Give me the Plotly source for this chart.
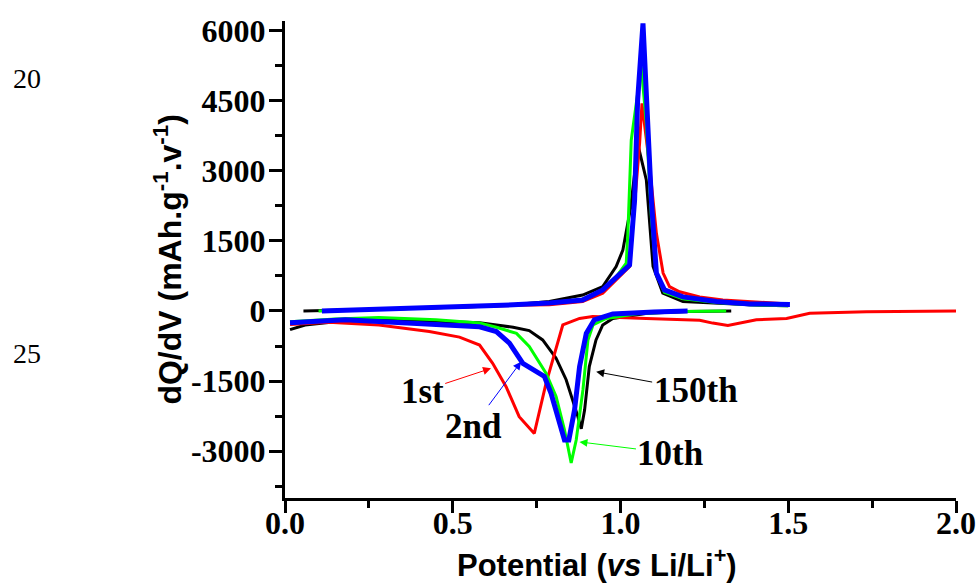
import plotly.graph_objects as go

# ---------------- data ----------------
# discharge (lower) branches
black_dis_v = [0.015, 0.06, 0.15, 0.28, 0.45, 0.58, 0.68, 0.728, 0.768, 0.808, 0.838, 0.858, 0.873, 0.883, 0.893, 0.907, 0.927, 0.947, 0.977, 1.08, 1.2, 1.33]
black_dis_q = [-400, -300, -230, -200, -220, -250, -350, -420, -620, -1010, -1470, -1900, -2260, -2520, -2120, -1190, -620, -300, -160, -50, -10, 0]

red_dis_v = [0.015, 0.13, 0.28, 0.43, 0.52, 0.58, 0.619, 0.659, 0.698, 0.743, 0.778, 0.828, 0.878, 0.917, 1.077, 1.236, 1.275, 1.32, 1.405, 1.495, 1.564, 1.733, 2.0]
red_dis_q = [-290, -240, -300, -440, -560, -730, -1120, -1620, -2260, -2620, -1550, -300, -160, -120, -160, -200, -260, -310, -190, -160, -50, -15, 0]

green_dis_v = [0.015, 0.15, 0.28, 0.45, 0.58, 0.63, 0.69, 0.728, 0.778, 0.808, 0.833, 0.853, 0.868, 0.888, 0.903, 0.918, 0.957, 1.05, 1.176, 1.315]
green_dis_q = [-230, -170, -140, -190, -260, -350, -480, -760, -1330, -1830, -2540, -3250, -2760, -1690, -620, -300, -160, -60, -10, 0]

blue_dis_v = [0.015, 0.18, 0.35, 0.48, 0.58, 0.63, 0.669, 0.709, 0.748, 0.773, 0.793, 0.818, 0.833, 0.846, 0.863, 0.878, 0.898, 0.922, 0.977, 1.1, 1.2]
blue_dis_q = [-250, -190, -250, -300, -340, -440, -690, -1120, -1300, -1400, -1760, -2330, -2760, -2760, -2120, -1190, -480, -190, -65, -20, 0]

# charge (upper) branches
black_ch_v = [0.055, 0.2, 0.4, 0.6, 0.68, 0.788, 0.887, 0.947, 0.987, 1.007, 1.03, 1.052, 1.077, 1.097, 1.126, 1.186, 1.385, 1.5]
black_ch_q = [0, 20, 60, 100, 130, 200, 340, 520, 950, 1300, 2200, 3550, 2800, 950, 380, 200, 130, 110]

red_ch_v = [0.12, 0.3, 0.5, 0.68, 0.788, 0.887, 0.947, 0.987, 1.027, 1.057, 1.064, 1.087, 1.107, 1.127, 1.146, 1.176, 1.236, 1.305, 1.385, 1.5]
red_ch_q = [0, 40, 80, 120, 130, 200, 380, 660, 950, 3590, 4440, 3080, 1660, 810, 520, 410, 300, 235, 200, 150]

green_ch_v = [0.1, 0.3, 0.5, 0.68, 0.788, 0.887, 0.947, 0.987, 1.017, 1.022, 1.032, 1.062, 1.077, 1.092, 1.107, 1.131, 1.186, 1.286, 1.385, 1.5]
green_ch_q = [0, 40, 80, 130, 170, 250, 450, 730, 1020, 1660, 3650, 5220, 4000, 2000, 800, 400, 260, 180, 130, 110]

blue_ch_v = [0.11, 0.3, 0.5, 0.68, 0.788, 0.887, 0.947, 0.988, 1.027, 1.042, 1.051, 1.067, 1.077, 1.092, 1.107, 1.131, 1.186, 1.286, 1.385, 1.505]
blue_ch_q = [0, 40, 80, 130, 170, 235, 450, 730, 980, 2370, 4500, 6150, 4500, 2370, 810, 450, 300, 200, 150, 140]

x_tickvals = [0.0, 0.5, 1.0, 1.5, 2.0]
x_ticktext = ["0.0", "0.5", "1.0", "1.5", "2.0"]
y_tickvals = [-3000, -1500, 0, 1500, 3000, 4500, 6000]
y_ticktext = ["-3000", "-1500", "0", "1500", "3000", "4500", "6000"]

# cycle labels: (text, label_x, label_y, arrow_head_x, arrow_head_y, colour)
labels = [
    ("1st", 0.409, -1714, 0.614, -1228, "#FF0000"),
    ("2nd", 0.561, -2464, 0.7036, -1086, "#0000FF"),
    ("150th", 1.224, -1693, 0.9275, -1300, "#000000"),
    ("10th", 1.149, -3043, 0.8776, -2800, "#00FF00"),
]

# ---------------- figure ----------------
fig = go.Figure()
series = [
    (black_dis_v, black_dis_q, black_ch_v, black_ch_q, "#000000", 3),
    (red_dis_v, red_dis_q, red_ch_v, red_ch_q, "#FF0000", 3),
    (green_dis_v, green_dis_q, green_ch_v, green_ch_q, "#00FF00", 3),
    (blue_dis_v, blue_dis_q, blue_ch_v, blue_ch_q, "#0000FF", 5),
]
for dv, dq, cv, cq, col, w in series:
    fig.add_trace(go.Scatter(x=dv, y=dq, mode="lines", line=dict(color=col, width=w), showlegend=False, hoverinfo="skip"))
    fig.add_trace(go.Scatter(x=cv, y=cq, mode="lines", line=dict(color=col, width=w), showlegend=False, hoverinfo="skip"))

tick_font = dict(family="Liberation Serif", size=32, color="black", weight="bold")

fig.update_xaxes(
    range=[0, 2.0], tickvals=x_tickvals, ticktext=x_ticktext, automargin=False,
    showline=True, linecolor="black", linewidth=3, mirror=False,
    ticks="outside", ticklen=12, tickwidth=3, tickcolor="black",
    minor=dict(ticks="outside", ticklen=7, tickwidth=3, tickcolor="black", dtick=0.25, tick0=0, showgrid=False),
    showgrid=False, zeroline=False, tickfont=tick_font, ticklabelstandoff=-17,
)
fig.update_yaxes(
    range=[-4000, 6200], tickvals=y_tickvals, ticktext=y_ticktext, automargin=False,
    showline=True, linecolor="black", linewidth=3, mirror=False,
    ticks="outside", ticklen=13, tickwidth=3, tickcolor="black",
    minor=dict(ticks="outside", ticklen=7, tickwidth=3, tickcolor="black", dtick=750, tick0=0, showgrid=False),
    showgrid=False, zeroline=False, tickfont=tick_font, ticklabelstandoff=-3,
)

annotations = []
for txt, lx, ly, hx, hy, col in labels:
    annotations.append(dict(x=hx, y=hy, ax=lx, ay=ly, xref="x", yref="y", axref="x", ayref="y",
                            text=txt, showarrow=True, arrowhead=2, arrowsize=1.6, arrowwidth=1,
                            arrowcolor=col, standoff=0,
                            font=dict(family="Liberation Serif", size=35, color="black", weight="bold")))

annotations.append(dict(x=-0.175, y=0.501, xref="paper", yref="paper", textangle=-90,
                        text="dQ/dV (mAh.g<sup>-1</sup>.v<sup>-1</sup>)", showarrow=False,
                        font=dict(family="Liberation Sans", size=32, color="black", weight="bold"),
                        xanchor="center", yanchor="middle"))
annotations.append(dict(x=0.465, y=-0.136, xref="paper", yref="paper",
                        text="Potential (<i>vs</i> Li/Li<sup>+</sup>)", showarrow=False,
                        font=dict(family="Liberation Sans", size=31, color="black", weight="bold"),
                        xanchor="center", yanchor="middle"))
annotations.append(dict(x=-0.3845, y=0.8805, xref="paper", yref="paper", text="20", showarrow=False,
                        font=dict(family="Liberation Serif", size=28, color="black"),
                        xanchor="center", yanchor="middle"))
annotations.append(dict(x=-0.3845, y=0.302, xref="paper", yref="paper", text="25", showarrow=False,
                        font=dict(family="Liberation Serif", size=28, color="black"),
                        xanchor="center", yanchor="middle"))

fig.update_layout(
    width=979, height=583,
    margin=dict(l=285, r=23, t=21, b=85, autoexpand=False),
    paper_bgcolor="white", plot_bgcolor="white",
    annotations=annotations,
)

# remove the default page margin so the 979x583 figure fills the window exactly
fig.write_html("out.html", config={"displayModeBar": False},
               post_script="document.body.style.margin='0px';document.body.style.overflow='hidden';")
